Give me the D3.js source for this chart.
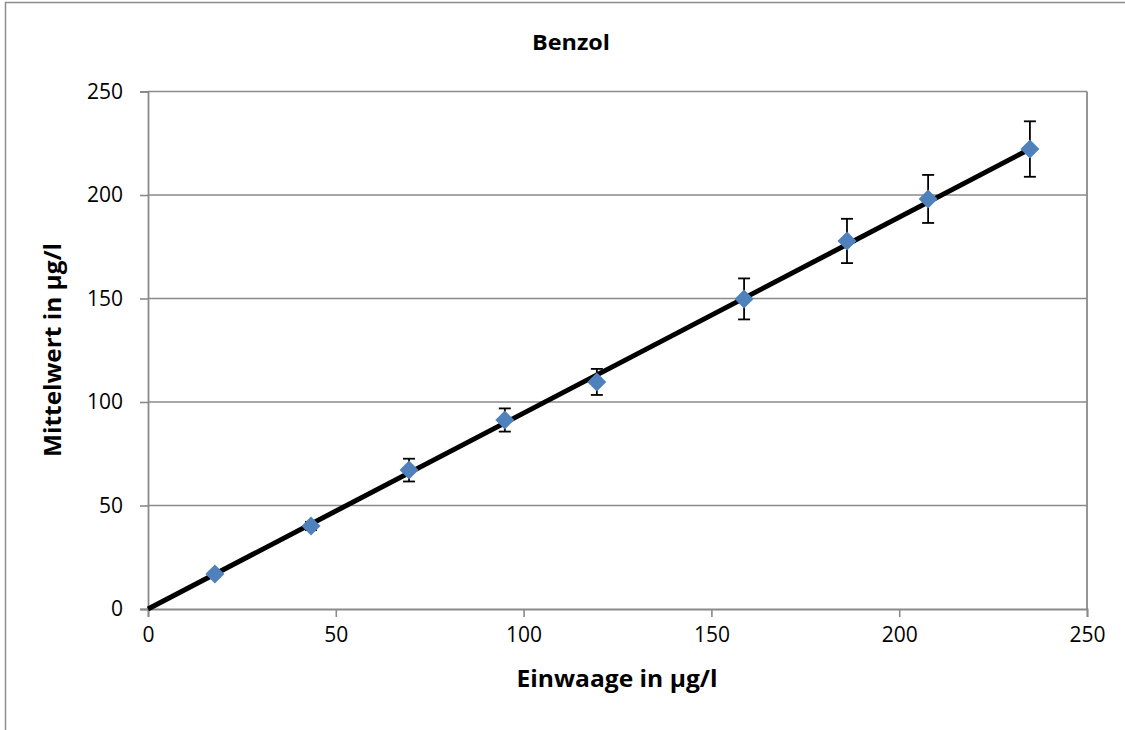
<!DOCTYPE html>
<html><head><meta charset="utf-8">
<script src="https://cdn.jsdelivr.net/npm/d3@7"></script>
<style>html,body{margin:0;padding:0;background:#fff;overflow:hidden;}svg{display:block;}</style>
</head><body>
<svg id="chart" width="1125" height="730"></svg>
<script>
const title = "Benzol";
const xTitle = "Einwaage in µg/l";
const yTitle = "Mittelwert in µg/l";
const einwaage = [17.8, 43.4, 69.5, 95.0, 119.5, 158.7, 186.1, 207.7, 234.8];
const mittelwert = [16.9, 40.1, 67.1, 91.3, 109.7, 149.8, 177.8, 198.1, 222.2];
const fehler = [1.2, 2.0, 5.5, 5.6, 6.3, 9.9, 10.7, 11.6, 13.4];
const trendX = [0, 234.8];
const trendY = [0, 222.2];
const xTicks = [0, 50, 100, 150, 200, 250];
const yTicks = [0, 50, 100, 150, 200, 250];

const svg = d3.select("#chart");
const font = "'Open Sans', 'Liberation Sans', sans-serif";
const plot = {left: 148, top: 91.5, right: 1087, bottom: 609};

// outer chart border
svg.append("rect").attr("x", 5.5).attr("y", 2.5).attr("width", 1130).attr("height", 740)
  .attr("fill", "#fff").attr("stroke", "#8c8c8c").attr("stroke-width", 1.5);

const x = d3.scaleLinear().domain([0, 250]).range([plot.left, plot.right]);
const y = d3.scaleLinear().domain([0, 250]).range([plot.bottom, plot.top]);

// gridlines
svg.append("g").selectAll("line").data(yTicks.filter(d => d > 0)).join("line")
  .attr("x1", plot.left).attr("x2", plot.right)
  .attr("y1", d => y(d)).attr("y2", d => y(d))
  .attr("stroke", "#8a8a8a").attr("stroke-width", 1.6);
// right border of plot
svg.append("line").attr("x1", plot.right).attr("x2", plot.right).attr("y1", plot.top).attr("y2", plot.bottom)
  .attr("stroke", "#8a8a8a").attr("stroke-width", 1.8);

// axes
const xAxis = d3.axisBottom(x).tickValues(xTicks).tickSize(8).tickPadding(10).tickFormat(d3.format("d"));
const yAxis = d3.axisLeft(y).tickValues(yTicks).tickSize(8).tickPadding(17).tickFormat(d3.format("d"));
const gx = svg.append("g").attr("transform", `translate(0,${plot.bottom})`).call(xAxis);
const gy = svg.append("g").attr("transform", `translate(${plot.left},0)`).call(yAxis);
[gx, gy].forEach(g => {
  g.select(".domain").attr("stroke", "#8a8a8a").attr("stroke-width", 1.8);
  g.selectAll(".tick line").attr("stroke", "#8a8a8a").attr("stroke-width", 1.6);
  g.selectAll(".tick text").attr("fill", "#000").style("font-family", font).style("font-size", "21px");
});

const data = einwaage.map((v, i) => ({x: v, y: mittelwert[i], e: fehler[i]}));

// trend line
svg.append("line")
  .attr("x1", x(trendX[0])).attr("y1", y(trendY[0]))
  .attr("x2", x(trendX[1])).attr("y2", y(trendY[1]))
  .attr("stroke", "#000").attr("stroke-width", 5);

// error bars
const eb = svg.append("g").attr("stroke", "#000").attr("stroke-width", 1.8);
data.forEach(d => {
  eb.append("line").attr("x1", x(d.x)).attr("x2", x(d.x)).attr("y1", y(d.y + d.e)).attr("y2", y(d.y - d.e));
  eb.append("line").attr("x1", x(d.x) - 6).attr("x2", x(d.x) + 6).attr("y1", y(d.y + d.e)).attr("y2", y(d.y + d.e));
  eb.append("line").attr("x1", x(d.x) - 6).attr("x2", x(d.x) + 6).attr("y1", y(d.y - d.e)).attr("y2", y(d.y - d.e));
});

// markers
svg.append("g").selectAll("path").data(data).join("path")
  .attr("d", d => { const cx = x(d.x), cy = y(d.y), r = 9.5;
    return `M${cx},${cy - r}L${cx + r},${cy}L${cx},${cy + r}L${cx - r},${cy}Z`; })
  .attr("fill", "#4F81BD");

// titles
svg.append("text").attr("x", 571).attr("y", 50).attr("text-anchor", "middle")
  .style("font-family", font).style("font-weight", "bold").style("font-size", "22px")
  .attr("textLength", 78).attr("lengthAdjust", "spacingAndGlyphs").text(title);
svg.append("text").attr("x", 617).attr("y", 687).attr("text-anchor", "middle")
  .style("font-family", font).style("font-weight", "bold").style("font-size", "23px")
  .attr("textLength", 201).attr("lengthAdjust", "spacingAndGlyphs").text(xTitle);
svg.append("text").attr("transform", `translate(61,350) rotate(-90)`).attr("text-anchor", "middle")
  .style("font-family", font).style("font-weight", "bold").style("font-size", "23px")
  .attr("textLength", 214).attr("lengthAdjust", "spacingAndGlyphs").text(yTitle);
</script>
</body></html>
